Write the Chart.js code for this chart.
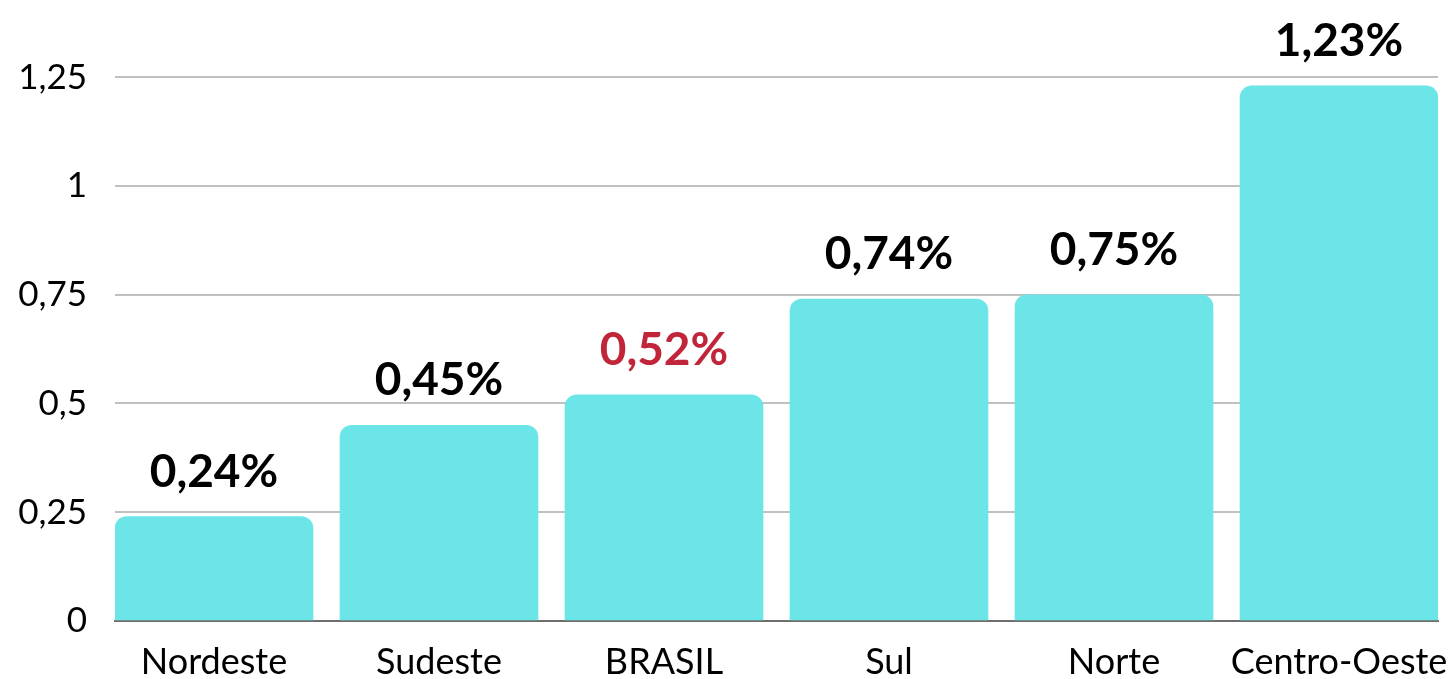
<!DOCTYPE html>
<html>
<head>
<meta charset="utf-8">
<script src="https://cdn.jsdelivr.net/npm/chart.js@4"></script>
<style>
	html, body { margin: 0; padding: 0; background: #fff; }
	#wrap { width: 1455px; height: 679px; }
</style>
</head>
<body>
<div id="wrap"><canvas id="chart"></canvas></div>
<script>
const categories = ["Nordeste", "Sudeste", "BRASIL", "Sul", "Norte", "Centro-Oeste"]
const values = [0.24, 0.45, 0.52, 0.74, 0.75, 1.23]
const labelColors = ["#000", "#000", "#c1253a", "#000", "#000", "#000"]
const yTicks = [0, 0.25, 0.5, 0.75, 1, 1.25]

const comma = v => String(v).replace(".", ",")

const barLabels = {
	id: "barLabels",
	afterDatasetsDraw(chart) {
		const ctx = chart.ctx
		const meta = chart.getDatasetMeta(0)
		ctx.save()
		ctx.font = "bold 46px Lato"
		ctx.textAlign = "center"
		ctx.textBaseline = "alphabetic"
		meta.data.forEach((bar, i) => {
			ctx.fillStyle = labelColors[i]
			ctx.fillText(comma(values[i]) + "%", bar.x, bar.y - 30)
		})
		ctx.restore()
	},
}

window.onload = () => {
	new Chart(document.getElementById("chart"), {
		type: "bar",
		data: {
			datasets: [{
				data: values.map((v, i) => ({ x: i, y: v })),
				backgroundColor: "#6be5e8",
				borderRadius: 12,
				borderSkipped: "start",
				barThickness: 198,
			}],
		},
		plugins: [barLabels],
		options: {
			responsive: true,
			maintainAspectRatio: false,
			animation: false,
			layout: { padding: { top: 12, right: 17, left: 0, bottom: 0 } },
			plugins: { legend: { display: false }, tooltip: { enabled: false } },
			scales: {
				x: {
					type: "linear",
					offset: false,
					min: -0.44,
					max: 5.44,
					grid: { display: false, drawTicks: false },
					border: { display: true, color: "#6e6e6e", width: 2 },
					afterBuildTicks: s => { s.ticks = categories.map((c, i) => ({ value: i })) },
					afterFit: s => { s.height = 58; s.paddingLeft = 0; s.paddingRight = 0 },
					ticks: {
						callback: v => categories[v],
						font: { family: "Lato", size: 36 },
						color: "#000",
						padding: 20,
						maxRotation: 0,
						autoSkip: false,
					},
				},
				y: {
					min: 0,
					max: 1.4,
					grid: { color: "#c0c0c0", lineWidth: 2, drawTicks: false },
					border: { display: false },
					afterBuildTicks: s => { s.ticks = yTicks.map(v => ({ value: v })) },
					afterFit: s => { s.width = 115; s.paddingTop = 0; s.paddingBottom = 0 },
					ticks: {
						callback: v => comma(v),
						font: { family: "Lato", size: 35 },
						color: "#000",
						padding: 28,
					},
				},
			},
		},
	})
}
</script>
</body>
</html>
